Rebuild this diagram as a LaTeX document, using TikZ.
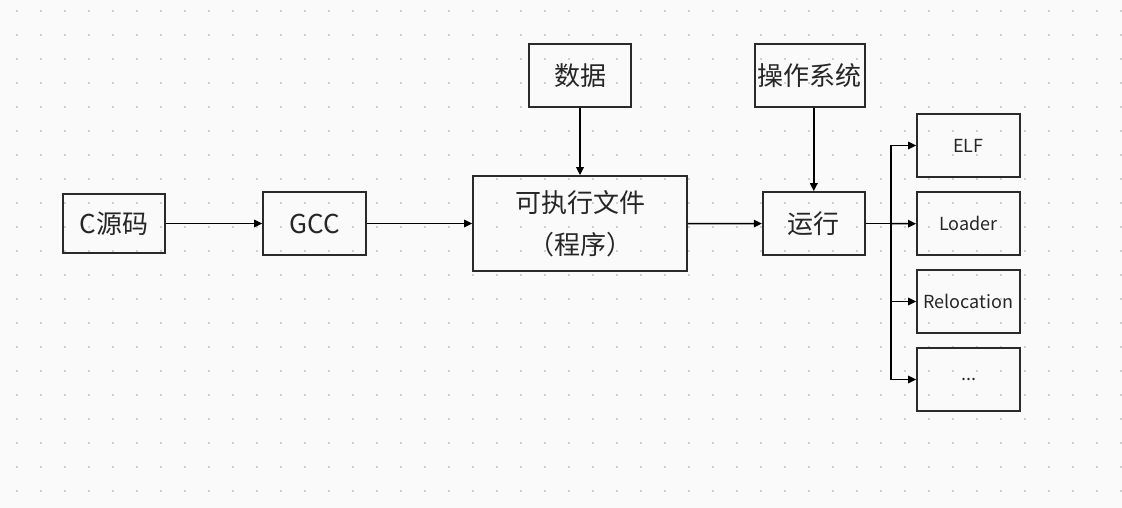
\documentclass[tikz,border=0pt]{standalone}
\usepackage{fontspec}
\setmainfont{Noto Sans CJK SC}
\usetikzlibrary{arrows.meta}
\definecolor{bg}{HTML}{FAFAFA}
\definecolor{dotc}{HTML}{CFCFCF}
\definecolor{boxc}{HTML}{2A2A2A}
\tikzset{
  box/.style={draw=boxc, line width=1.8pt, fill=none, inner sep=0pt, align=center,
    font=\fontsize{26}{42}\selectfont, text=black!85},
  smallbox/.style={box, minimum width=103pt, minimum height=63pt,
    font=\fontsize{18}{22}\selectfont},
  conn/.style={line width=1.5pt, black, -{Triangle[length=8pt,width=7.5pt]}},
  plain/.style={line width=1.5pt, black}
}
\begin{document}
\begin{tikzpicture}[x=1pt,y=-1pt]
\useasboundingbox (0,0) rectangle (1122,508);
\fill[bg] (0,0) rectangle (1122,508);
\foreach \i in {0,...,46}{
  \foreach \j in {0,...,20}{
    \fill[dotc] ({17+24*\i-1},{11+24*\j-1}) rectangle ++(2,2);
  }
}
\node[box, minimum width=102pt, minimum height=59pt] (src) at (114,223.5) {C源码};
\node[box, minimum width=103pt, minimum height=63pt] (gcc) at (314.5,223.5) {GCC};
\node[box, minimum width=214pt, minimum height=95pt] (exe) at (580,223.5) {可执行文件\\（程序）};
\node[box, minimum width=102pt, minimum height=63pt] (data) at (580,75.2) {数据};
\node[box, minimum width=110pt, minimum height=63pt] (os) at (809.7,75.3) {操作系统};
\node[box, minimum width=102pt, minimum height=63pt] (run) at (813.8,223.6) {运行};
\node[smallbox] (elf) at (968.5,145.5) {ELF};
\node[smallbox] (loader) at (968.5,223.7) {Loader};
\node[smallbox] (reloc) at (968.5,301.5) {Relocation};
\node[smallbox] (more) at (968.5,379.5) {...};
\coordinate (br) at (891,223.6);
\draw[conn] (src) -- (gcc);
\draw[conn] (gcc) -- (exe);
\draw[conn] (data) -- (exe);
\draw[conn] (exe) -- (run);
\draw[conn] (run.north |- os.south) -- (run.north);
\draw[plain] (run.east) -- (br);
\draw[conn] (br) |- (elf.west);
\draw[conn] (br) -- (loader.west);
\draw[conn] (br) |- (reloc.west);
\draw[conn] (br) |- (more.west);
\end{tikzpicture}
\end{document}
